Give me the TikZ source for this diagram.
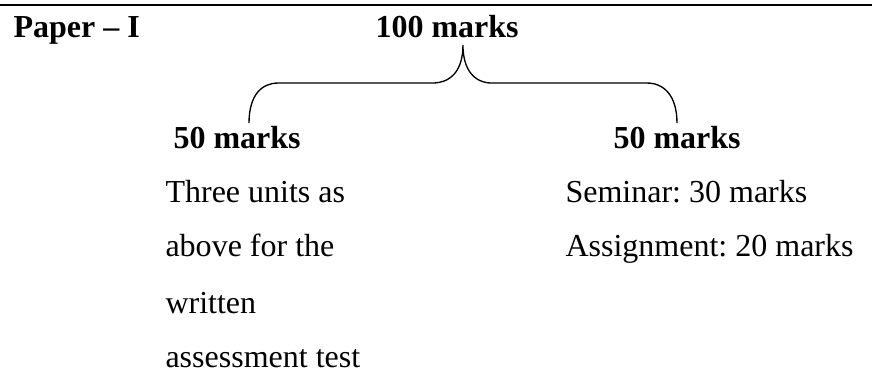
\documentclass[tikz,border=0pt]{standalone}
\usepackage{fontspec}
\setmainfont{Liberation Serif}
\usepackage{tikz}
\usetikzlibrary{positioning, calc}
\frenchspacing
\tikzset{
  head/.style={font=\fontsize{12}{14}\selectfont\bfseries, anchor=base west, inner sep=0pt},
  body/.style={font=\fontsize{12}{14}\selectfont, anchor=base west, inner sep=0pt}
}

\begin{document}
\begin{tikzpicture}
  \useasboundingbox (0,0) rectangle (11.529,-4.888);
  \draw[line width=0.75pt] (0,-0.066) -- (11.49,-0.066);
  \node[head] (paper) at (0.171,-0.488) {Paper -- I};
  \node[head] (total) at (4.941,-0.488) {100 marks};
  % the brace
  \draw[line width=0.5pt] (3.281,-1.621) .. controls (3.281,-1.25) and (3.45,-1.094) .. (3.663,-1.094)
    -- (5.692,-1.094) .. controls (5.95,-1.094) and (6.10,-0.92) .. (6.10,-0.593)
    .. controls (6.10,-0.92) and (6.25,-1.094) .. (6.483,-1.094)
    -- (8.525,-1.094) .. controls (8.74,-1.094) and (8.92,-1.25) .. (8.920,-1.621);
  \node[head] (written) at (2.279,-1.950) {50 marks};
  \node[head] (internal) at (8.077,-1.950) {50 marks};
  \node[body] (l1) at (2.174,-2.662) {Three units as};
  \node[body] (l2) at (2.174,-3.386) {above for the};
  \node[body] (l3) at (2.174,-4.124) {written};
  \node[body] (l4) at (2.174,-4.836) {assessment test};
  \node[body] (r1) at (7.444,-2.662) {Seminar: 30 marks};
  \node[body] (r2) at (7.444,-3.386) {Assignment: 20 marks};
\end{tikzpicture}
\end{document}
